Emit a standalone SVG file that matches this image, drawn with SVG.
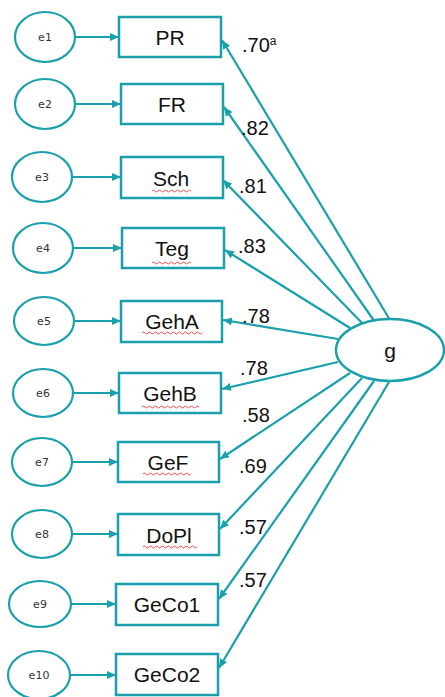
<svg xmlns="http://www.w3.org/2000/svg" width="445" height="697" viewBox="0 0 445 697">
<style>
.box{fill:#fff;stroke:#1AA0AC;stroke-width:2.5}
.err{fill:#fff;stroke:#1AA0AC;stroke-width:2.2}
.lbl{font-family:"Liberation Sans",Arial,sans-serif;font-size:21px;fill:#111;text-anchor:middle}
.el{font-family:"DejaVu Sans",sans-serif;font-size:11px;fill:#333;text-anchor:middle}
.coef{font-family:"Liberation Sans",Arial,sans-serif;font-size:20px;fill:#111}
.sup{font-family:"Liberation Sans",Arial,sans-serif;font-size:12px;fill:#111}
.con line{stroke:#1AA0AC;stroke-width:2.2;marker-end:url(#ah)}
.sq{fill:none;stroke:#f05050;stroke-width:1}
</style>
<defs>
<marker id="ah" markerUnits="userSpaceOnUse" markerWidth="10" markerHeight="10" refX="9" refY="4" orient="auto" viewBox="0 0 10 8">
<path d="M0,0 L9,4 L0,8 z" fill="#1AA0AC"/>
</marker>
</defs>
<rect width="445" height="697" fill="#fff"/>

<g class="con">
<line x1="76" y1="37" x2="119" y2="37"/>
<line x1="76" y1="104" x2="121" y2="104"/>
<line x1="73" y1="177" x2="121" y2="177"/>
<line x1="74" y1="248" x2="122" y2="248"/>
<line x1="74" y1="321" x2="121" y2="321"/>
<line x1="73" y1="393" x2="119" y2="393"/>
<line x1="72" y1="462" x2="118" y2="462"/>
<line x1="72" y1="534" x2="118" y2="534"/>
<line x1="71" y1="604" x2="116" y2="604"/>
<line x1="70" y1="675" x2="116" y2="675"/>
<line x1="390" y1="320" x2="222" y2="40"/>
<line x1="375" y1="322" x2="224" y2="107"/>
<line x1="363" y1="324" x2="223" y2="180"/>
<line x1="350" y1="328" x2="225" y2="250"/>
<line x1="338" y1="339" x2="223" y2="320"/>
<line x1="338" y1="362" x2="222" y2="389"/>
<line x1="350" y1="373" x2="220" y2="459"/>
<line x1="362" y1="378" x2="220" y2="529"/>
<line x1="374" y1="381" x2="219" y2="599"/>
<line x1="389" y1="382" x2="219" y2="668"/>
</g>

<g id="e1"><ellipse class="err" cx="45" cy="37" rx="30" ry="25"/><text class="el" x="45" y="41">e1</text></g>
<g id="e2"><ellipse class="err" cx="45" cy="104" rx="30" ry="25"/><text class="el" x="45" y="108">e2</text></g>
<g id="e3"><ellipse class="err" cx="42" cy="177" rx="30" ry="25"/><text class="el" x="42" y="181">e3</text></g>
<g id="e4"><ellipse class="err" cx="43" cy="248" rx="30" ry="25"/><text class="el" x="43" y="252">e4</text></g>
<g id="e5"><ellipse class="err" cx="44" cy="321" rx="30" ry="24"/><text class="el" x="44" y="325">e5</text></g>
<g id="e6"><ellipse class="err" cx="43" cy="393" rx="30" ry="24"/><text class="el" x="43" y="397">e6</text></g>
<g id="e7"><ellipse class="err" cx="42" cy="462" rx="30" ry="24"/><text class="el" x="42" y="466">e7</text></g>
<g id="e8"><ellipse class="err" cx="42" cy="534" rx="30" ry="24"/><text class="el" x="42" y="538">e8</text></g>
<g id="e9"><ellipse class="err" cx="40" cy="604" rx="31" ry="23"/><text class="el" x="40" y="608">e9</text></g>
<g id="e10"><ellipse class="err" cx="39" cy="675" rx="31" ry="24"/><text class="el" x="39" y="679">e10</text></g>

<g id="PR"><rect class="box" x="119" y="17" width="102" height="40"/><text class="lbl" x="170" y="45">PR</text></g>
<g id="FR"><rect class="box" x="121" y="84" width="102" height="40"/><text class="lbl" x="172" y="112">FR</text></g>
<g id="Sch"><rect class="box" x="121" y="157" width="102" height="41"/><text class="lbl" x="171" y="186">Sch</text><path class="sq" d="M152,191 q1.5,-2 3,0 t3,0 t3,0 t3,0 t3,0 t3,0 t3,0 t3,0 t3,0 t3,0 t3,0 t3,0 t3,0"/></g>
<g id="Teg"><rect class="box" x="122" y="228" width="102" height="40"/><text class="lbl" x="172" y="256">Teg</text><path class="sq" d="M152,263 q1.5,-2 3,0 t3,0 t3,0 t3,0 t3,0 t3,0 t3,0 t3,0 t3,0 t3,0 t3,0 t3,0 t3,0"/></g>
<g id="GehA"><rect class="box" x="121" y="301" width="101" height="41"/><text class="lbl" x="172" y="329">GehA</text><path class="sq" d="M142,333 q1.5,-2 3,0 t3,0 t3,0 t3,0 t3,0 t3,0 t3,0 t3,0 t3,0 t3,0 t3,0 t3,0 t3,0 t3,0 t3,0 t3,0 t3,0 t3,0 t3,0 t3,0"/></g>
<g id="GehB"><rect class="box" x="119" y="373" width="102" height="40"/><text class="lbl" x="170" y="401">GehB</text><path class="sq" d="M142,407 q1.5,-2 3,0 t3,0 t3,0 t3,0 t3,0 t3,0 t3,0 t3,0 t3,0 t3,0 t3,0 t3,0 t3,0 t3,0 t3,0 t3,0 t3,0 t3,0 t3,0"/></g>
<g id="GeF"><rect class="box" x="118" y="442" width="101" height="40"/><text class="lbl" x="168" y="470">GeF</text><path class="sq" d="M143,474 q1.5,-2 3,0 t3,0 t3,0 t3,0 t3,0 t3,0 t3,0 t3,0 t3,0 t3,0 t3,0 t3,0 t3,0 t3,0 t3,0 t3,0"/></g>
<g id="DoPl"><rect class="box" x="118" y="514" width="101" height="41"/><text class="lbl" x="169" y="543">DoPl</text><path class="sq" d="M143,547 q1.5,-2 3,0 t3,0 t3,0 t3,0 t3,0 t3,0 t3,0 t3,0 t3,0 t3,0 t3,0 t3,0 t3,0 t3,0 t3,0 t3,0 t3,0 t3,0"/></g>
<g id="GeCo1"><rect class="box" x="116" y="584" width="102" height="41"/><text class="lbl" x="167" y="612">GeCo1</text></g>
<g id="GeCo2"><rect class="box" x="116" y="654" width="102" height="41"/><text class="lbl" x="167" y="682">GeCo2</text></g>

<g id="g"><ellipse class="box" cx="390" cy="350" rx="54" ry="31"/><text class="lbl" x="390" y="358">g</text></g>

<g id="coefs">
<text class="coef" x="242" y="52">.70<tspan class="sup" dy="-7">a</tspan></text>
<text class="coef" x="241" y="135">.82</text>
<text class="coef" x="239" y="193">.81</text>
<text class="coef" x="238" y="253">.83</text>
<text class="coef" x="242" y="323">.78</text>
<text class="coef" x="240" y="375">.78</text>
<text class="coef" x="242" y="422">.58</text>
<text class="coef" x="239" y="473">.69</text>
<text class="coef" x="239" y="534">.57</text>
<text class="coef" x="239" y="587">.57</text>
</g>
</svg>
